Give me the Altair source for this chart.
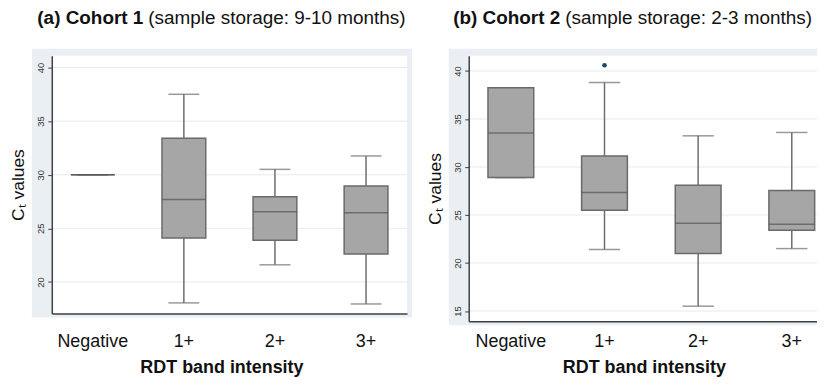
import altair as alt
import pandas as pd

cats = ["Negative", "1+", "2+", "3+"]

# Cohort 1 box statistics (Ct values)
c1_lo = [30.0, 18.05, 21.6, 17.95]
c1_q1 = [30.0, 24.1, 23.9, 22.6]
c1_med = [30.0, 27.7, 26.55, 26.45]
c1_q3 = [30.0, 33.4, 27.95, 28.95]
c1_hi = [30.0, 37.5, 30.5, 31.75]
c1_out_cat = []
c1_out_val = []

# Cohort 2 box statistics (Ct values)
c2_lo = [28.9, 21.4, 15.5, 21.5]
c2_q1 = [28.9, 25.5, 21.0, 23.4]
c2_med = [33.55, 27.35, 24.15, 24.05]
c2_q3 = [38.25, 31.15, 28.1, 27.55]
c2_hi = [38.25, 38.8, 33.25, 33.6]
c2_out_cat = ["1+"]
c2_out_val = [40.6]

c1_ticks = [20, 25, 30, 35, 40]
c2_ticks = [15, 20, 25, 30, 35, 40]

FONT = "Liberation Sans"
BG = "#E9EFF2"


def panel(lo, q1, med, q3, hi, out_cat, out_val, ydom, yticks, W, H,
          box_w, cap_w, lab_pad, title_dx, bold, rest):
    df = pd.DataFrame({"cat": cats, "lo": lo, "q1": q1, "med": med,
                       "q3": q3, "hi": hi})
    one = pd.DataFrame({"a": [0]})
    xs = alt.Scale(domain=cats, paddingInner=0.5, paddingOuter=0.2)
    ys = alt.Scale(domain=ydom, nice=False, zero=False)
    xaxis = alt.Axis(title="RDT band intensity", labelFontSize=18, labelAngle=0,
                     ticks=False, tickSize=0, labelPadding=lab_pad,
                     domainColor="#404040", domainWidth=1.5,
                     titleFontSize=18, titleFontWeight="bold", titlePadding=7.5,
                     titleX=W / 2 + title_dx, labelColor="#111",
                     titleColor="#111", grid=False, zindex=1)
    yaxis = alt.Axis(title="Cₜ values", values=yticks, labelAngle=270,
                     labelAlign="center", labelBaseline="bottom",
                     labelFontSize=9.5, labelColor="#333", tickSize=4,
                     tickColor="#404040", tickWidth=1, domainColor="#404040",
                     domainWidth=1.5, grid=False, titleFontSize=17.5,
                     titleFontWeight="normal", titlePadding=8,
                     titleColor="#111", zindex=1)
    X = alt.X("cat:N", scale=xs, axis=xaxis, sort=cats)

    def Y(f):
        return alt.Y(f + ":Q", scale=ys, axis=yaxis)

    base = alt.Chart(df)
    bg = alt.Chart(one).mark_rect(color=BG).encode(
        x=alt.value(-20), x2=alt.value(W + 5), y=alt.value(-7), y2=alt.value(H + 4))
    white = alt.Chart(one).mark_rect(color="white").encode(
        x=alt.value(0), x2=alt.value(W), y=alt.value(0), y2=alt.value(H))
    grid = alt.Chart(pd.DataFrame({"v": yticks})).mark_rule(
        color="#E4EBEE", strokeWidth=1).encode(
        y=Y("v"), x=alt.value(0), x2=alt.value(W))
    whisk = base.mark_rule(color="#6E6E6E", strokeWidth=1.5).encode(
        x=X, y=Y("lo"), y2="hi")
    cap_lo = base.mark_tick(color="#6E6E6E", thickness=1.5, size=cap_w).encode(
        x=X, y=Y("lo"))
    cap_hi = base.mark_tick(color="#6E6E6E", thickness=1.5, size=cap_w).encode(
        x=X, y=Y("hi"))
    box = base.mark_bar(size=box_w, fill="#A6A6A6", stroke="#6A6A6A",
                        strokeWidth=1.5).encode(x=X, y=Y("q1"), y2="q3")
    medl = base.mark_tick(color="#555555", thickness=1.5, size=box_w).encode(
        x=X, y=Y("med"))
    layers = [bg, white, grid, whisk, cap_lo, cap_hi, box, medl]
    if out_cat:
        pts = alt.Chart(pd.DataFrame({"cat": out_cat, "v": out_val})).mark_circle(
            size=22, color="#1A476F", opacity=1).encode(x=X, y=Y("v"))
        layers.append(pts)
    t1 = alt.Chart(one).mark_text(text=bold, font=FONT, fontSize=19,
                                  fontWeight="bold", align="right",
                                  baseline="alphabetic", color="#111").encode(
        x=alt.value(92), y=alt.value(-32))
    t2 = alt.Chart(one).mark_text(text=rest, font=FONT, fontSize=19,
                                  fontWeight="normal", align="left",
                                  baseline="alphabetic", color="#111").encode(
        x=alt.value(97), y=alt.value(-32))
    layers += [t1, t2]
    return alt.layer(*layers).properties(width=W, height=H)


pa = panel(c1_lo, c1_q1, c1_med, c1_q3, c1_hi, c1_out_cat, c1_out_val,
           [17.07, 41.1], c1_ticks, 357, 259, 44, 31, 19.5, -8,
           "(a) Cohort 1", "(sample storage: 9-10 months)")
pb = panel(c2_lo, c2_q1, c2_med, c2_q3, c2_hi, c2_out_cat, c2_out_val,
           [13.92, 41.6], c2_ticks, 367, 267, 46, 31.5, 11.5, -7.5,
           "(b) Cohort 2", "(sample storage: 2-3 months)")

chart = alt.hconcat(pa, pb, spacing=14).properties(
    padding={"left": 2, "top": 0, "right": -22, "bottom": 0},
    background="white"
).configure(font=FONT).configure_view(stroke=None)

chart.save("out.html", embed_options={"renderer": "svg", "actions": False})
